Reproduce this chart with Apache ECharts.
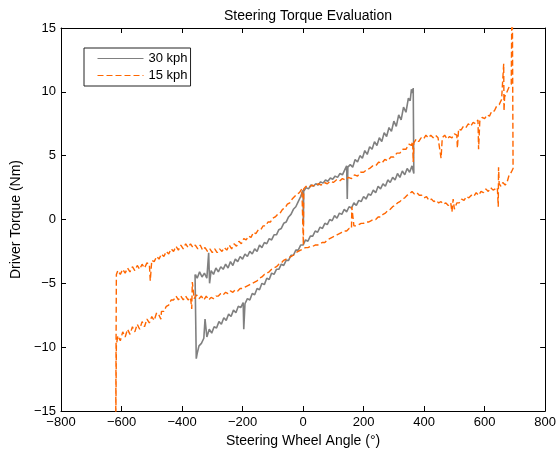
<!DOCTYPE html>
<html>
<head>
<meta charset="utf-8">
<script src="https://cdn.jsdelivr.net/npm/echarts@6.0.0/dist/echarts.min.js"></script>
<style>
html,body{margin:0;padding:0;background:#fff;}
#chart{width:559px;height:454px;}
</style>
</head>
<body>
<div id="chart"></div>
<script>
// ---- Data (x: steering wheel angle in deg, y: torque in Nm) ----
const xTicks = [-800, -600, -400, -200, 0, 200, 400, 600, 800];
const yTicks = [-15, -10, -5, 0, 5, 10, 15];
const seriesNames = ['30 kph', '15 kph'];

// 30 kph: upper branch (left -> right)
const kph30Upper = [
[-356,-4.3],[-350,-4.6],[-342,-4.1],[-334,-4.5],[-326,-4.2],[-318,-4.6],[-312,-2.6],[-309,-5.0],[-304,-4.0],
[-296,-4.3],[-288,-3.8],[-280,-4.1],[-272,-3.7],[-264,-3.9],[-256,-3.5],[-248,-3.8],[-240,-3.3],[-232,-3.6],
[-224,-3.1],[-216,-3.3],[-208,-2.9],[-200,-3.1],[-192,-2.7],[-184,-2.9],[-176,-2.5],[-168,-2.7],[-160,-2.3],
[-152,-2.5],[-144,-2.0],[-136,-2.2],[-128,-1.8],[-120,-1.9],[-112,-1.5],[-104,-1.6],[-96,-1.2],[-88,-1.2],
[-80,-0.8],[-72,-0.7],[-64,-0.3],[-56,-0.2],[-48,0.2],[-40,0.4],[-32,0.8],[-24,1.0],[-16,1.4],[-8,1.8],
[0,2.3],[1,-0.4],[2,2.2],[10,2.5],[18,2.4],[26,2.7],[34,2.6],[42,2.8],[50,2.7],[58,2.95],[66,2.85],[74,3.1],
[82,3.0],[90,3.25],[98,3.15],[106,3.4],[114,3.3],[122,3.6],[130,3.5],[138,3.9],[144,4.2],[146,1.6],[148,4.1],
[156,4.3],[164,4.1],[172,4.7],[180,4.5],[188,5.0],[196,4.8],[204,5.4],[212,5.1],[220,5.7],[228,5.5],[236,6.1],
[244,5.8],[252,6.4],[260,6.1],[268,6.8],[276,6.5],[284,7.2],[292,6.9],[300,7.7],[308,7.3],[316,8.2],[324,7.8],
[332,8.8],[340,8.4],[348,9.5],[354,9.3],[358,10.2],[362,9.9],[364,10.3]
];
// 30 kph: lower branch (right -> left)
const kph30Lower = [
[366,3.6],[360,4.2],[352,3.7],[344,4.0],[336,3.5],[328,3.8],[320,3.3],[312,3.6],[304,3.1],[296,3.3],[288,2.9],
[280,3.1],[272,2.6],[264,2.8],[256,2.4],[248,2.6],[240,2.1],[232,2.3],[224,1.9],[216,2.0],[208,1.6],[200,1.8],
[192,1.4],[184,1.5],[176,1.1],[168,1.3],[160,0.9],[152,1.0],[144,0.6],[136,0.8],[128,0.4],[120,0.5],[112,0.1],
[104,0.3],[96,-0.1],[88,0.0],[80,-0.4],[72,-0.3],[64,-0.7],[56,-0.6],[48,-1.0],[40,-0.9],[32,-1.3],[24,-1.3],
[16,-1.7],[8,-1.6],[0,-2.0],[-8,-2.0],[-16,-2.4],[-24,-2.4],[-32,-2.8],[-40,-2.8],[-48,-3.2],[-56,-3.2],
[-64,-3.6],[-72,-3.5],[-80,-3.9],[-88,-3.9],[-96,-4.3],[-104,-4.2],[-112,-4.7],[-120,-4.6],[-128,-5.1],
[-136,-5.0],[-144,-5.5],[-152,-5.4],[-160,-5.9],[-168,-5.8],[-176,-6.3],[-184,-6.2],[-192,-6.6],[-196,-8.6],
[-198,-6.5],[-206,-6.9],[-214,-6.8],[-222,-7.3],[-230,-7.1],[-238,-7.6],[-246,-7.4],[-254,-7.9],[-262,-7.7],
[-270,-8.2],[-278,-8.0],[-286,-8.5],[-294,-8.4],[-302,-8.9],[-310,-8.6],[-318,-9.2],[-324,-7.8],[-328,-9.3],
[-336,-9.7],[-344,-9.9],[-350,-10.5],[-353,-10.9],[-356,-11.0],[-357,-4.3]
];

// 15 kph: upper branch (left -> right), starting from the vertical rise at about -617 deg
const kph15Upper = [
[-620,-20],[-617,-4.3],[-612,-4.0],[-604,-4.3],[-596,-3.9],[-588,-4.2],[-580,-3.8],[-572,-4.1],[-564,-3.7],
[-556,-4.0],[-548,-3.6],[-540,-3.9],[-532,-3.5],[-524,-3.8],[-516,-3.4],[-508,-3.5],[-505,-4.8],[-500,-3.2],
[-492,-3.3],[-484,-2.9],[-476,-3.1],[-468,-2.7],[-460,-2.9],[-452,-2.5],[-444,-2.7],[-436,-2.3],[-428,-2.5],
[-420,-2.1],[-412,-2.4],[-404,-2.0],[-396,-2.3],[-388,-1.9],[-380,-2.2],[-372,-1.9],[-364,-2.2],[-356,-2.0],
[-348,-2.3],[-340,-2.0],[-332,-2.4],[-324,-2.2],[-316,-2.5],[-308,-2.3],[-300,-2.6],[-292,-2.3],[-284,-2.6],
[-276,-2.3],[-268,-2.5],[-260,-2.2],[-252,-2.4],[-244,-2.0],[-236,-2.3],[-228,-1.9],[-220,-2.1],[-212,-1.7],
[-204,-1.9],[-196,-1.5],[-188,-1.6],[-180,-1.3],[-172,-1.4],[-164,-1.0],[-156,-1.1],[-148,-0.8],[-140,-0.8],
[-132,-0.5],[-124,-0.5],[-116,-0.2],[-108,-0.2],[-100,0.1],[-92,0.2],[-84,0.4],[-76,0.5],[-68,0.8],[-60,0.9],
[-52,1.2],[-44,1.3],[-36,1.6],[-28,1.8],[-20,2.0],[-12,2.1],[-4,2.4],[0,2.5],[1,-2.0],[2,2.4],[10,2.6],
[20,2.5],[30,2.7],[40,2.6],[50,2.8],[60,2.7],[70,2.9],[80,2.8],[90,3.0],[100,2.9],[110,3.1],[120,3.0],
[130,3.2],[140,3.1],[150,3.3],[160,3.2],[170,3.5],[180,3.4],[190,3.7],[200,3.7],[210,3.9],[220,4.0],[230,4.2],
[240,4.2],[250,4.5],[260,4.4],[270,4.7],[280,4.6],[290,4.9],[300,4.9],[310,5.2],[320,5.2],[330,5.5],[340,5.5],
[350,5.9],[358,5.8],[362,6.1],[364,4.5],[366,6.0],[374,6.3],[382,6.1],[390,6.4],[398,6.3],[406,6.6],[414,6.4],
[422,6.6],[430,6.4],[438,6.6],[446,6.4],[452,6.5],[456,4.8],[460,6.4],[468,6.6],[476,6.3],[484,6.5],[492,6.4],
[500,6.7],[508,6.6],[510,5.6],[514,7.1],[522,7.0],[530,7.3],[538,7.2],[546,7.5],[554,7.3],[562,7.6],[570,7.5],
[578,7.8],[580,5.5],[584,7.7],[592,8.0],[600,7.9],[608,8.2],[616,8.1],[624,8.5],[632,8.5],[640,8.9],[648,9.0],
[656,9.4],[662,9.5],[663,12.2],[664,8.5],[666,9.6],[672,9.9],[681,10.4],[688,10.6],[691,20]
];
// 15 kph: lower branch (right -> left), ending with the vertical fall near -617 deg
const kph15Lower = [
[694,20],[694,4.0],[688,3.7],[681,3.5],[674,2.9],[668,2.7],[660,2.9],[654,2.6],[648,2.8],[646,4.1],[645,1.0],
[642,2.5],[636,2.6],[628,2.3],[620,2.5],[612,2.2],[604,2.4],[596,2.1],[588,2.2],[580,1.9],[572,2.1],[564,1.8],
[556,1.9],[548,1.7],[540,1.8],[532,1.5],[524,1.6],[516,1.3],[508,1.3],[500,0.8],[496,1.6],[492,0.6],[488,1.3],
[480,1.1],[472,1.3],[464,1.2],[456,1.4],[448,1.3],[440,1.5],[432,1.4],[424,1.6],[416,1.5],[408,1.8],[400,1.7],
[392,1.9],[384,1.9],[376,2.1],[368,2.0],[360,2.2],[352,2.0],[344,1.9],[336,1.7],[328,1.6],[320,1.4],[312,1.3],
[304,1.1],[296,1.0],[288,0.8],[280,0.7],[272,0.5],[264,0.4],[256,0.2],[248,0.2],[240,0.0],[232,0.0],[224,-0.1],
[216,-0.2],[208,-0.2],[200,-0.3],[192,-0.3],[184,-0.4],[176,-0.5],[168,-0.5],[162,-0.6],[161,1.0],[160,-0.7],
[152,-0.7],[144,-0.9],[136,-0.9],[128,-1.0],[120,-1.1],[112,-1.2],[104,-1.3],[96,-1.4],[88,-1.5],[80,-1.6],
[72,-1.8],[64,-1.8],[56,-1.9],[48,-2.0],[40,-2.0],[32,-2.1],[24,-2.1],[16,-2.2],[8,-2.2],[0,-2.3],[-8,-2.4],
[-16,-2.5],[-24,-2.6],[-32,-2.8],[-40,-2.9],[-48,-3.0],[-56,-3.1],[-64,-3.2],[-72,-3.4],[-80,-3.5],[-88,-3.7],
[-96,-3.8],[-104,-3.9],[-112,-4.1],[-120,-4.2],[-128,-4.3],[-136,-4.5],[-144,-4.6],[-152,-4.8],[-160,-4.9],
[-168,-5.0],[-176,-5.1],[-184,-5.2],[-192,-5.3],[-200,-5.4],[-208,-5.4],[-216,-5.6],[-224,-5.5],[-232,-5.7],
[-240,-5.6],[-248,-5.8],[-256,-5.7],[-264,-5.9],[-272,-5.8],[-280,-6.0],[-288,-6.0],[-296,-6.2],[-304,-6.1],
[-312,-6.3],[-320,-6.0],[-328,-6.3],[-336,-6.0],[-344,-6.2],[-352,-5.9],[-360,-6.2],[-366,-4.9],[-368,-7.0],
[-372,-6.1],[-380,-6.3],[-388,-6.0],[-396,-6.3],[-404,-6.0],[-412,-6.3],[-420,-6.0],[-428,-6.3],[-436,-6.3],
[-444,-6.7],[-452,-6.8],[-460,-7.2],[-468,-7.2],[-470,-7.8],[-476,-7.5],[-484,-7.3],[-492,-7.9],[-500,-7.6],
[-508,-8.1],[-516,-7.8],[-524,-8.4],[-532,-8.0],[-540,-8.6],[-548,-8.2],[-556,-8.8],[-564,-8.4],[-572,-9.0],
[-580,-8.6],[-588,-9.2],[-596,-8.8],[-604,-9.5],[-612,-9.1],[-617,-9.8],[-620,-20]
];

const grayColor = '#808080';
const orangeColor = '#ff6600';
const fontFamily = '"Liberation Sans", Arial, Helvetica, sans-serif';
const minusFmt = v => String(v).replace('-', '\u2212');

const chart = echarts.init(document.getElementById('chart'), null, {renderer: 'canvas'});
chart.setOption({
  animation: false,
  backgroundColor: '#ffffff',
  textStyle: {fontFamily: fontFamily, color: '#000'},
  title: {
    text: 'Steering Torque Evaluation',
    left: 303, top: 4, textAlign: 'center',
    textStyle: {fontSize: 14, fontWeight: 'normal', color: '#000', fontFamily: fontFamily}
  },
  legend: {
    orient: 'vertical',
    left: 84, top: 48,
    padding: [4, 3, 4, 13],
    itemWidth: 46, itemHeight: 14, itemGap: 4,
    borderColor: '#222', borderWidth: 1,
    backgroundColor: '#fff',
    data: seriesNames,
    itemStyle: {opacity: 0, borderWidth: 0},
    lineStyle: {width: 1},
    textStyle: {fontSize: 13, color: '#000', fontFamily: fontFamily}
  },
  grid: {left: 61, right: 13, top: 28, bottom: 43, containLabel: false},
  xAxis: [{
    type: 'value', min: xTicks[0], max: xTicks[xTicks.length - 1], interval: 200,
    name: 'Steering Wheel Angle (\u00b0)', nameLocation: 'middle', nameGap: 22,
    nameTextStyle: {fontSize: 14, color: '#000', fontFamily: fontFamily},
    axisLine: {onZero: false, lineStyle: {color: '#000', width: 1}},
    axisTick: {inside: true, length: 5, lineStyle: {color: '#000'}},
    axisLabel: {fontSize: 13, color: '#000', margin: 5, formatter: minusFmt, fontFamily: fontFamily},
    splitLine: {show: false}
  }, {
    type: 'value', position: 'top', min: xTicks[0], max: xTicks[xTicks.length - 1], interval: 200,
    axisLine: {onZero: false, lineStyle: {color: '#000', width: 1}},
    axisTick: {inside: true, length: 5, lineStyle: {color: '#000'}},
    axisLabel: {show: false}, splitLine: {show: false}
  }],
  yAxis: [{
    type: 'value', min: yTicks[0], max: yTicks[yTicks.length - 1], interval: 5,
    name: 'Driver Torque (Nm)', nameLocation: 'middle', nameGap: 31, nameRotate: 90,
    nameTextStyle: {fontSize: 14, color: '#000', fontFamily: fontFamily},
    axisLine: {onZero: false, lineStyle: {color: '#000', width: 1}},
    axisTick: {inside: true, length: 5, lineStyle: {color: '#000'}},
    axisLabel: {fontSize: 13, color: '#000', margin: 5, formatter: minusFmt, fontFamily: fontFamily},
    splitLine: {show: false}
  }, {
    type: 'value', position: 'right', min: yTicks[0], max: yTicks[yTicks.length - 1], interval: 5,
    axisLine: {onZero: false, lineStyle: {color: '#000', width: 1}},
    axisTick: {inside: true, length: 5, lineStyle: {color: '#000'}},
    axisLabel: {show: false}, splitLine: {show: false}
  }],
  series: [{
    name: seriesNames[0], type: 'line', xAxisIndex: 0, yAxisIndex: 0,
    symbol: 'none', smooth: false,
    lineStyle: {color: grayColor, width: 1.6},
    itemStyle: {color: grayColor},
    data: kph30Upper.concat(kph30Lower)
  }, {
    name: seriesNames[1], type: 'line', xAxisIndex: 0, yAxisIndex: 0,
    symbol: 'none', smooth: false,
    lineStyle: {color: orangeColor, width: 1.4, type: [6, 3]},
    itemStyle: {color: orangeColor},
    data: kph15Upper.concat(kph15Lower)
  }]
});
</script>
</body>
</html>
